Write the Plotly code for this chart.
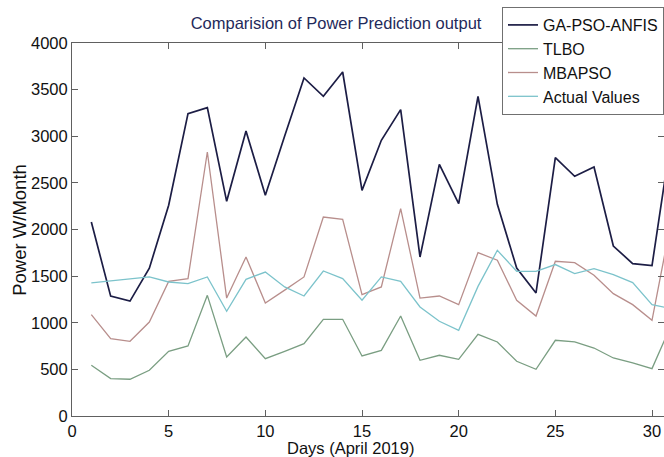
import plotly.graph_objects as go

days = list(range(1, 32))
ga_pso_anfis = [2080, 1285, 1232, 1585, 2260, 3243, 3307, 2302, 3057, 2367,
                3003, 3625, 3428, 3689, 2420, 2957, 3286, 1705, 2699, 2278,
                3428, 2270, 1587, 1319, 2771, 2570, 2670, 1823, 1634, 1613, 3000]
tlbo = [544, 401, 394, 490, 694, 751, 1294, 633, 847, 615,
        694, 776, 1037, 1037, 644, 704, 1072, 597, 651, 608,
        876, 794, 587, 501, 812, 794, 729, 622, 569, 508, 980]
mbapso = [1087, 830, 801, 1008, 1444, 1473, 2831, 1265, 1705, 1212,
          1350, 1491, 2134, 2109, 1302, 1384, 2224, 1265, 1287, 1194,
          1752, 1670, 1241, 1072, 1659, 1645, 1509, 1312, 1194, 1026, 2100]
actual = [1427, 1448, 1466, 1491, 1437, 1420, 1491, 1123, 1466, 1544,
          1384, 1287, 1555, 1473, 1241, 1491, 1444, 1169, 1016, 919,
          1390, 1777, 1552, 1552, 1624, 1527, 1580, 1516, 1430, 1194, 1150]

series = [
    ("GA-PSO-ANFIS", ga_pso_anfis, "#1c1d45", 1.7),
    ("TLBO", tlbo, "#7a9e82", 1.3),
    ("MBAPSO", mbapso, "#b88e8c", 1.3),
    ("Actual Values", actual, "#7cc3cb", 1.3),
]

fig = go.Figure()
for name, vals, color, w in series:
    fig.add_trace(go.Scatter(x=days, y=vals, mode="lines", name=name,
                             line=dict(color=color, width=w)))

font_family = "Liberation Sans, Arial, sans-serif"
axis_common = dict(showline=True, linecolor="#606060", linewidth=1, mirror="ticks",
                   ticks="inside", ticklen=6, tickcolor="#606060", showgrid=False,
                   zeroline=False, tickfont=dict(size=16.5, color="#111111", family=font_family))

fig.update_layout(
    width=664, height=457,
    margin=dict(l=72, r=0, t=43, b=41, autoexpand=False),
    paper_bgcolor="white", plot_bgcolor="white",
    font=dict(family=font_family, color="#111111"),
    title=dict(text="Comparision of Power Prediction output", x=0.446, xref="paper",
               xanchor="center", y=1 - 23 / 457, yref="container", yanchor="middle",
               font=dict(size=16.5, color="#1f2a5a", family=font_family)),
    xaxis=dict(range=[0, 30.62], tickvals=[0, 5, 10, 15, 20, 25, 30], **axis_common),
    yaxis=dict(range=[0, 4000], tickvals=list(range(0, 4001, 500)), **axis_common),
    legend=dict(x=1.0, y=1.0965, xanchor="right", yanchor="top",
                bordercolor="#707070", borderwidth=1, bgcolor="white",
                font=dict(size=16, color="#111111", family=font_family),
                tracegroupgap=0, itemwidth=30),
    showlegend=True,
)

fig.add_annotation(text="Days (April 2019)", xref="paper", yref="paper",
                   x=0.47, y=-0.086, showarrow=False, xanchor="center", yanchor="middle",
                   font=dict(size=16.5, color="#111111", family=font_family))
fig.add_annotation(text="Power W/Month", xref="paper", yref="paper",
                   x=-0.088, y=0.499, showarrow=False, textangle=-90,
                   xanchor="center", yanchor="middle",
                   font=dict(size=18.5, color="#111111", family=font_family))

fig.write_html("out.html")
